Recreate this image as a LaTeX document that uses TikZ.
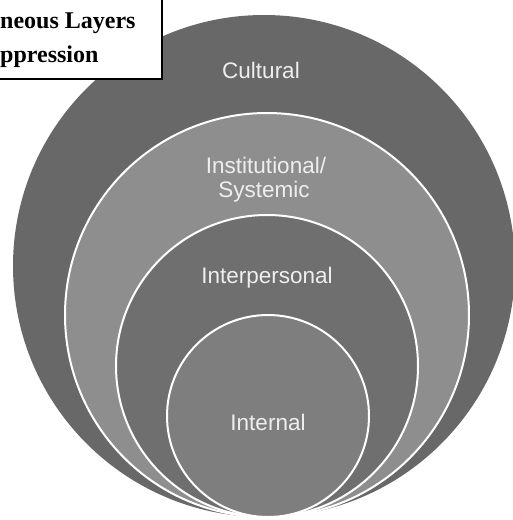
\documentclass[tikz,border=0pt]{standalone}
\usepackage{fontspec}
\setmainfont{Liberation Serif}
\newfontfamily\arialf{Liberation Sans}
\definecolor{ringA}{HTML}{686868}
\definecolor{ringB}{HTML}{8E8E8E}
\definecolor{ringC}{HTML}{6F6F6F}
\definecolor{ringD}{HTML}{7E7E7E}
\definecolor{lbl}{HTML}{EEEEEE}
\tikzset{
  layer/.style={circle, inner sep=0pt, draw=white, line width=2pt},
  layertext/.style={anchor=base, text=lbl, font=\arialf\fontsize{22.5}{23.5}\selectfont, inner sep=0pt, align=center},
  titletext/.style={anchor=base west, inner sep=0pt, font=\bfseries\fontsize{24}{28}\selectfont}
}
\begin{document}
\begin{tikzpicture}[x=1pt,y=-1pt]
\useasboundingbox (0,0) rectangle (513,520);
\node[layer, draw=none, fill=ringA, minimum size=502pt] (cultural) at (264,266) {};
\node[layer, fill=ringB, minimum size=404pt] (institutional) at (267,315) {};
\node[layer, fill=ringC, minimum size=302pt] (interpersonal) at (267,366) {};
\node[layer, fill=ringD, minimum size=202pt] (internal) at (268,416) {};
\node[layertext] (tcult) at (261,78) {Cultural};
\node[layertext] (tinst1) at (266,173) {Institutional/};
\node[layertext] (tinst2) at (264,197) {Systemic};
\node[layertext] (tinter) at (267,283) {Interpersonal};
\node[layertext] (tint) at (268,430) {Internal};
\draw[fill=white, draw=black, line width=1.6pt] (-5,-5) rectangle (162,79);
\node[titletext] (title1) at (0,28) {neous Layers};
\node[titletext] (title2) at (0,62) {ppression};
\end{tikzpicture}
\end{document}
